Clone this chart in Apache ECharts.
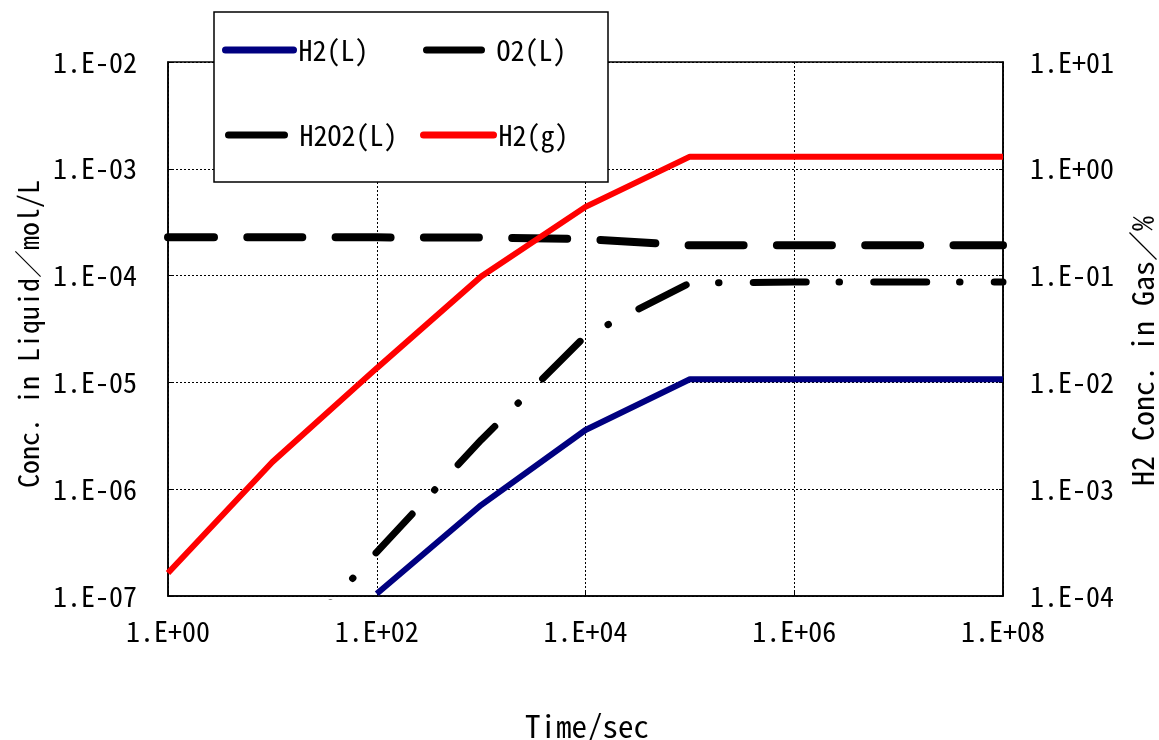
<!DOCTYPE html>
<html>
<head>
<meta charset="utf-8">
<title>Conc. vs Time</title>
<script src="https://cdn.jsdelivr.net/npm/echarts@6.0.0/dist/echarts.min.js"></script>
<style>
    html, body { margin: 0; padding: 0; background: #fff; }
    #chart { width: 1159px; height: 740px; }
</style>
</head>
<body>
<div id="chart"></div>
<script>
// time / sec
var time = [1, 10, 100, 1e3, 1e4, 1e5, 1e6, 1e7, 1e8];
// liquid, mol/L
var h2L = [null, null, 1.05e-7, 7.1e-7, 3.58e-6, 1.07e-5, 1.07e-5, 1.07e-5, 1.07e-5];
var o2L = [2.28e-4, 2.28e-4, 2.28e-4, 2.27e-4, 2.2e-4, 1.92e-4, 1.92e-4, 1.92e-4, 1.92e-4];
var h2o2L = [null, 2.2e-8, 2.58e-7, 2.89e-6, 2.72e-5, 8.53e-5, 8.7e-5, 8.7e-5, 8.7e-5];
// gas, %
var h2g = [1.64e-4, 1.8e-3, 1.36e-2, 9.8e-2, 4.4e-1, 1.3, 1.3, 1.3, 1.3];

var names = ['H2(L)', 'O2(L)', 'H2O2(L)', 'H2(g)'];

function pairs(arr){
    var out = [];
    for(var i=0;i<time.length;i++){
        if(arr[i]!=null) out.push([time[i], arr[i]]);
    }
    return out;
}

// 1.E+02 style
function sci(v){
    var e = Math.round(Math.log10(v)),
        a = Math.abs(e);
    return '1.E' + (e<0?'-':'+') + (a<10?'0':'') + a;
}

var font = "'Noto Sans Mono CJK JP', 'Liberation Sans', 'Noto Sans CJK JP', sans-serif",
    fs = 28;

function legendAt(name, left, top, w, pad){
    return {
        data: [name],
        left: left,
        top: top,
        itemWidth: w,
        itemHeight: 14,
        padding: 0,
        z: 20,
        selectedMode: false,
        itemStyle: { opacity: 0 },
        lineStyle: { width: 7, type: 'solid', cap: 'round' },
        textStyle: { color: '#000', fontSize: fs, fontFamily: font, padding: [0, 0, 0, pad] }
    };
}

var chart = echarts.init(document.getElementById('chart')),

    option = {
        animation: false,
        backgroundColor: '#fff',
        grid: {
            left: 168,
            right: 156,
            top: 62,
            bottom: 144,
            outerBoundsMode: 'none',
            containLabel: false,
            show: true,
            borderColor: '#000',
            borderWidth: 1.5
        },
        legend: [
            legendAt(names[0], 222, 36, 68, 0),
            legendAt(names[1], 423, 36, 55, 10),
            legendAt(names[2], 225, 121, 56, 10),
            legendAt(names[3], 420, 121, 70, 0)
        ],
        graphic: [
            {
                type: 'rect',
                z: 10,
                shape: { x: 214, y: 12, width: 394, height: 170 },
                style: { fill: '#fff', stroke: '#000', lineWidth: 1.5 }
            },
            {
                type: 'text',
                left: 525,
                top: 711,
                style: { text: 'Time/sec', fill: '#000', fontSize: 31, fontFamily: font }
            }
        ],
        xAxis: {
            type: 'log',
            logBase: 10,
            min: 1,
            max: 1e8,
            interval: 2,
            axisLine: { lineStyle: { color: '#000', width: 1.5 } },
            axisTick: { show: true, inside: true, length: 4, lineStyle: { color: '#000' } },
            minorTick: { show: false },
            axisLabel: {
                formatter: sci,
                margin: 21,
                showMinLabel: true,
                showMaxLabel: true,
                color: '#000',
                fontSize: fs,
                fontFamily: font
            },
            splitLine: { show: true, lineStyle: { color: '#000', width: 1, type: [2, 2] } }
        },
        yAxis: [
            {
                type: 'log',
                logBase: 10,
                min: 1e-7,
                max: 1e-2,
                interval: 1,
                position: 'left',
                name: 'Conc. in Liquid／mol/L',
                nameLocation: 'middle',
                nameRotate: 90,
                nameGap: 124,
                nameTextStyle: { color: '#000', fontSize: 28, fontFamily: font, padding: [0, 10, 0, 0] },
                axisLine: { show: true, lineStyle: { color: '#000', width: 1.5 } },
                axisTick: { show: true, inside: true, length: 4, lineStyle: { color: '#000' } },
                axisLabel: {
                    formatter: sci,
                    margin: 31,
                    padding: [6, 0, 0, 0],
                    showMinLabel: true,
                    showMaxLabel: true,
                    color: '#000',
                    fontSize: fs,
                    fontFamily: font
                },
                splitLine: { show: true, lineStyle: { color: '#000', width: 1, type: [2, 2] } }
            },
            {
                type: 'log',
                logBase: 10,
                min: 1e-4,
                max: 10,
                interval: 1,
                position: 'right',
                name: 'H2 Conc. in Gas／%',
                nameLocation: 'middle',
                nameRotate: 90,
                nameGap: 125,
                nameTextStyle: { color: '#000', fontSize: 30, fontFamily: font, padding: [0, 44, 0, 0] },
                axisLine: { show: true, lineStyle: { color: '#000', width: 1.5 } },
                axisTick: { show: true, inside: true, length: 4, lineStyle: { color: '#000' } },
                axisLabel: {
                    formatter: sci,
                    margin: 27,
                    padding: [6, 0, 0, 0],
                    showMinLabel: true,
                    showMaxLabel: true,
                    color: '#000',
                    fontSize: fs,
                    fontFamily: font
                },
                splitLine: { show: false }
            }
        ],
        series: [
            {
                name: names[0],
                type: 'line',
                yAxisIndex: 0,
                symbol: 'none',
                data: pairs(h2L),
                color: '#000080',
                lineStyle: { color: '#000080', width: 6 }
            },
            {
                name: names[1],
                type: 'line',
                yAxisIndex: 0,
                symbol: 'none',
                data: pairs(o2L),
                color: '#000',
                lineStyle: { color: '#000', width: 8, type: [55, 33.3], dashOffset: 9, cap: 'round' }
            },
            {
                name: names[2],
                type: 'line',
                yAxisIndex: 0,
                symbol: 'none',
                data: pairs(h2o2L),
                color: '#000',
                lineStyle: { color: '#000', width: 7, type: [53, 32.8, 0.5, 34.2], dashOffset: 87.4, cap: 'round' }
            },
            {
                name: names[3],
                type: 'line',
                yAxisIndex: 1,
                symbol: 'none',
                data: pairs(h2g),
                color: '#ff0000',
                lineStyle: { color: '#ff0000', width: 6 }
            }
        ]
    };

chart.setOption(option);
</script>
</body>
</html>
